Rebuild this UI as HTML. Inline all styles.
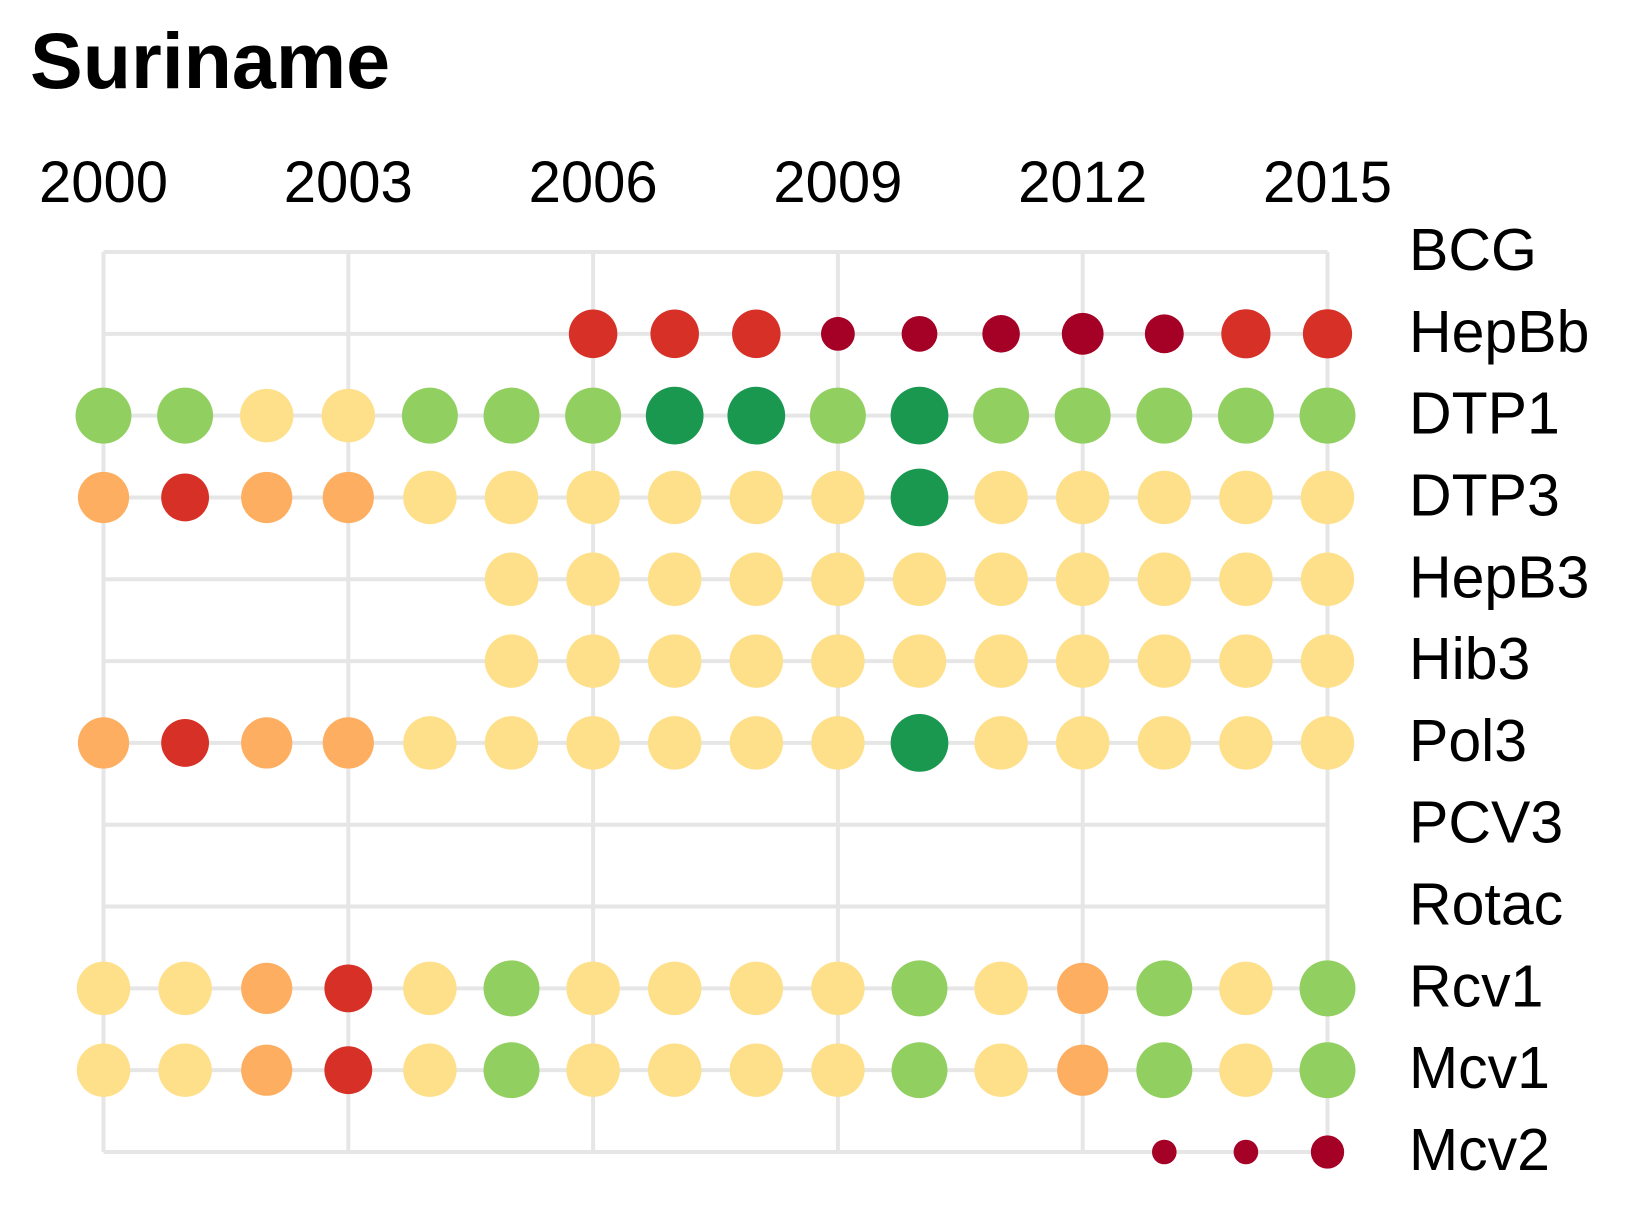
<!DOCTYPE html>
<html><head><meta charset="utf-8">
<style>
html,body{margin:0;padding:0;background:#fff;}
svg{display:block;font-family:"Liberation Sans",Arial,sans-serif;}
</style></head>
<body>
<svg id="chart" width="1640" height="1222" viewBox="0 0 1640 1222" xmlns="http://www.w3.org/2000/svg">
<text x="30" y="88" font-size="79" font-weight="bold" fill="#000">Suriname</text>
<g id="grid"></g>
<g id="xlabels"></g>
<g id="ylabels"></g>
<g id="dots"></g>
</svg>
<script>
const years = [2000,2001,2002,2003,2004,2005,2006,2007,2008,2009,2010,2011,2012,2013,2014,2015];
const tickYears = [2000,2003,2006,2009,2012,2015];
const vaccines = ["BCG","HepBb","DTP1","DTP3","HepB3","Hib3","Pol3","PCV3","Rotac","Rcv1","Mcv1","Mcv2"];
const N = null;
const BCG   = [N,N,N,N,N,N,N,N,N,N,N,N,N,N,N,N];
const HepBb = [N,N,N,N,N,N,70,70,70,34,38,42,52,45,72,72];
const DTP1  = [93,93,85,85,93,93,93,99,99,93,99,93,93,93,93,93];
const DTP3  = [78,68,78,78,85,85,85,85,85,85,99,85,85,85,85,85];
const HepB3 = [N,N,N,N,N,85,85,85,85,85,85,85,85,85,85,85];
const Hib3  = [N,N,N,N,N,85,85,85,85,85,85,85,85,85,85,85];
const Pol3  = [78,68,78,78,85,85,85,85,85,85,99,85,85,85,85,85];
const PCV3  = [N,N,N,N,N,N,N,N,N,N,N,N,N,N,N,N];
const Rotac = [N,N,N,N,N,N,N,N,N,N,N,N,N,N,N,N];
const Rcv1  = [85,85,78,68,85,93,85,85,85,85,93,85,78,93,85,93];
const Mcv1  = [85,85,78,68,85,93,85,85,85,85,93,85,78,93,85,93];
const Mcv2  = [N,N,N,N,N,N,N,N,N,N,N,N,N,18,18,33];
const series = [BCG,HepBb,DTP1,DTP3,HepB3,Hib3,Pol3,PCV3,Rotac,Rcv1,Mcv1,Mcv2];

const X0=103.5, X1=1327.5, Y0=252, Y1=1152;
const xScale = y => X0 + (y-years[0])*(X1-X0)/(years[years.length-1]-years[0]);
const yScale = i => Y0 + i*(Y1-Y0)/(vaccines.length-1);
const rScale = v => 29*Math.sqrt(v/100);
function color(v){
  if(v>=97) return "#1a9850";
  if(v>=90) return "#91cf60";
  if(v>=80) return "#fee08b";
  if(v>=75) return "#fdae61";
  if(v>=60) return "#d73027";
  return "#a50026";
}
const NS="http://www.w3.org/2000/svg";
const grid=document.getElementById('grid'), xl=document.getElementById('xlabels'),
      yl=document.getElementById('ylabels'), dots=document.getElementById('dots');
function mk(tag, attrs){const e=document.createElementNS(NS,tag);for(const k in attrs)e.setAttribute(k,attrs[k]);return e;}
vaccines.forEach((v,i)=>{
  const l=mk('line',{x1:X0,x2:X1,y1:yScale(i),y2:yScale(i),stroke:"#e6e6e6","stroke-width":4});
  
  
  grid.appendChild(l);
  const t=mk('text',{x:1409,y:yScale(i)+18,"font-size":59,fill:"#000"});
  t.textContent=v;
  
  
  yl.appendChild(t);
});
tickYears.forEach(y=>{
  const l=mk('line',{x1:xScale(y),x2:xScale(y),y1:Y0,y2:Y1,stroke:"#e6e6e6","stroke-width":4});
  
  
  grid.appendChild(l);
  const t=mk('text',{x:xScale(y),y:202,"font-size":58,"text-anchor":"middle",fill:"#000"});
  t.textContent=y;
  
  
  xl.appendChild(t);
});
series.forEach((s,i)=>{
  s.forEach((v,j)=>{
    if(v===null) return;
    const c=mk('circle',{cx:xScale(years[j]),cy:yScale(i),r:rScale(v),fill:color(v)});
    
    
    dots.appendChild(c);
  });
});
</script>
</body></html>
